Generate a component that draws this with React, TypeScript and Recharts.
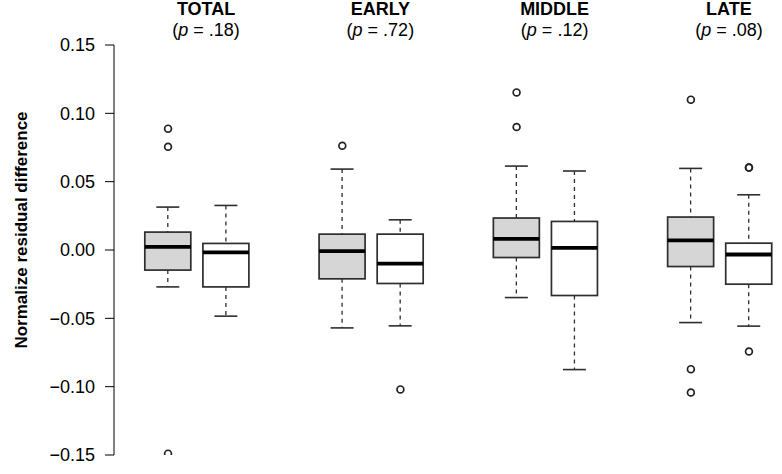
import React from 'react'
import { ComposedChart, Bar, Scatter, XAxis, YAxis } from 'recharts'

// groups and their p values (title rows)
const GROUPS = ['TOTAL', 'EARLY', 'MIDDLE', 'LATE']
const P_VALUES = ['.18', '.72', '.12', '.08']

// box statistics, two boxes per group (shaded first, white second)
const LOWER = [-0.027, -0.0484, -0.057, -0.0555, -0.0348, -0.0875, -0.0531, -0.0557]
const Q1 = [-0.0147, -0.027, -0.0211, -0.0245, -0.0055, -0.0333, -0.0121, -0.025]
const MEDIAN = [0.0023, -0.0018, -0.0008, -0.0099, 0.0082, 0.0016, 0.007, -0.0033]
const Q3 = [0.0131, 0.0048, 0.0116, 0.0116, 0.0234, 0.0209, 0.0241, 0.005]
const UPPER = [0.0314, 0.0326, 0.0592, 0.0221, 0.0614, 0.0578, 0.0597, 0.0404]
const OUTLIERS: number[][] = [
  [0.0888, 0.0756, -0.149],
  [],
  [0.0763],
  [-0.102],
  [0.1153, 0.09],
  [],
  [0.11, -0.0872, -0.1043],
  [0.0604, 0.0604, -0.0743],
]

const Y_TICKS = [-0.15, -0.1, -0.05, 0, 0.05, 0.1, 0.15]

const W = 782
const H = 474
const MARGIN = { top: 45, right: 4, bottom: 19, left: 0 }
const Y_AXIS_W = 114
const PAD_LEFT = 25
const FONT = '"Liberation Sans", Arial, Helvetica, sans-serif'

const rows: any[] = []
GROUPS.forEach((g, gi) => {
  ;[0, 1].forEach((k) => {
    const i = gi * 2 + k
    rows.push({
      slot: `${g}-${k}`,
      range: [LOWER[i], UPPER[i]],
      lo: LOWER[i],
      q1: Q1[i],
      med: MEDIAN[i],
      q3: Q3[i],
      hi: UPPER[i],
      shaded: k === 0,
      o0: OUTLIERS[i][0] ?? null,
      o1: OUTLIERS[i][1] ?? null,
      o2: OUTLIERS[i][2] ?? null,
    })
  })
  if (gi < GROUPS.length - 1) rows.push({ slot: `gap-${gi}`, range: null })
})

const fmt = (v: number) => (v < 0 ? '\u2212' : '') + Math.abs(v).toFixed(2)

function BoxShape(props: any) {
  const { x, y, width, height, payload } = props
  if (!payload || payload.q1 == null || !height) return <g />
  const top = Math.min(y, y + height)
  const bottom = Math.max(y, y + height)
  const k = (bottom - top) / (payload.hi - payload.lo)
  const py = (v: number) => bottom - (v - payload.lo) * k
  const cx = x + width / 2
  const cap = width / 4
  const edge = '#2e2e2e'
  return (
    <g>
      <line x1={cx} x2={cx} y1={py(payload.hi)} y2={py(payload.q3)} stroke={edge} strokeWidth={1.3} strokeDasharray="4 4" />
      <line x1={cx} x2={cx} y1={py(payload.q1)} y2={py(payload.lo)} stroke={edge} strokeWidth={1.3} strokeDasharray="4 4" />
      <line x1={cx - cap} x2={cx + cap} y1={py(payload.hi)} y2={py(payload.hi)} stroke={edge} strokeWidth={1.6} />
      <line x1={cx - cap} x2={cx + cap} y1={py(payload.lo)} y2={py(payload.lo)} stroke={edge} strokeWidth={1.6} />
      <rect
        x={x}
        y={py(payload.q3)}
        width={width}
        height={py(payload.q1) - py(payload.q3)}
        fill={payload.shaded ? '#d6d6d6' : '#ffffff'}
        stroke={edge}
        strokeWidth={1.7}
      />
      <line x1={x} x2={x + width} y1={py(payload.med)} y2={py(payload.med)} stroke="#000" strokeWidth={3.8} />
    </g>
  )
}

const outlierShape = (key: string) => (props: any) => {
  const v = props.payload?.[key]
  if (v == null || props.cx == null || props.cy == null) return <g />
  return <circle cx={props.cx} cy={props.cy} r={3.4} fill="none" stroke="#222" strokeWidth={1.7} />
}

export default function App() {
  const plotLeft = MARGIN.left + Y_AXIS_W + PAD_LEFT
  const band = (W - MARGIN.right - plotLeft) / rows.length
  return (
    <div style={{ position: 'absolute', left: 0, top: 0, width: W, height: H, background: '#fff', fontFamily: FONT }}>
      <ComposedChart width={W} height={H} data={rows} margin={MARGIN}>
        <XAxis dataKey="slot" hide padding={{ left: PAD_LEFT, right: 0 }} />
        <YAxis
          type="number"
          domain={[-0.15, 0.15]}
          ticks={Y_TICKS}
          tickFormatter={fmt}
          width={Y_AXIS_W}
          tickSize={9}
          tickMargin={10}
          interval={0}
          axisLine={{ stroke: '#000', strokeWidth: 1 }}
          tickLine={{ stroke: '#000', strokeWidth: 1 }}
          tick={{ fill: '#000', fontSize: 18, fontFamily: FONT }}
          allowDataOverflow
        />
        <Bar dataKey="range" shape={<BoxShape />} isAnimationActive={false} />
        <Scatter dataKey="o0" shape={outlierShape('o0')} isAnimationActive={false} />
        <Scatter dataKey="o1" shape={outlierShape('o1')} isAnimationActive={false} />
        <Scatter dataKey="o2" shape={outlierShape('o2')} isAnimationActive={false} />
      </ComposedChart>
      <svg width={W} height={H} style={{ position: 'absolute', left: 0, top: 0, pointerEvents: 'none' }}>
        {GROUPS.map((g, gi) => {
          const cx = plotLeft + band * (gi * 3 + 1) + 9
          return (
            <g key={g} fontFamily={FONT} fontSize={18} textAnchor="middle" fill="#000">
              <text x={cx} y={15} fontWeight="bold">{g}</text>
              <text x={cx} y={36}>
                (<tspan fontStyle="italic">p</tspan> = {P_VALUES[gi]})
              </text>
            </g>
          )
        })}
        <text
          x={27}
          y={230}
          transform="rotate(-90 27 230)"
          textAnchor="middle"
          fontFamily={FONT}
          fontSize={17}
          fontWeight="bold"
          fill="#000"
        >
          Normalize residual difference
        </text>
      </svg>
    </div>
  )
}
